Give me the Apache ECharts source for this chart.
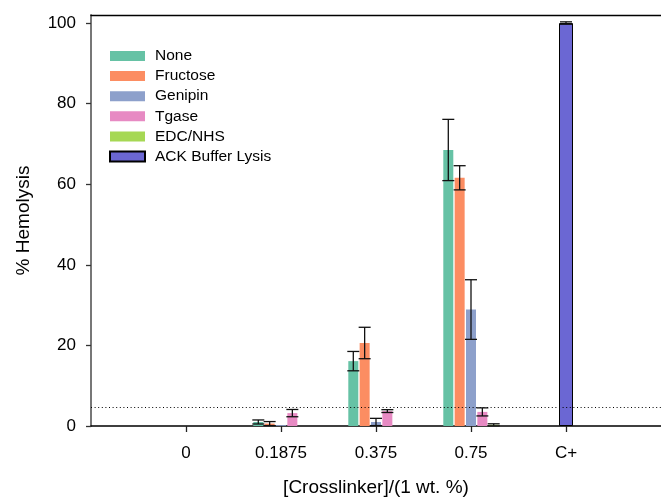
<!DOCTYPE html>
<html>
<head>
<meta charset="UTF-8">
<title>Hemolysis</title>
<script src="https://cdn.jsdelivr.net/npm/echarts@6/dist/echarts.min.js"></script>
<style>
  html, body { margin: 0; padding: 0; background: #fff; }
</style>
</head>
<body>
<div id="main" style="width: 661px;height:498px;"></div>
<script type="text/javascript">
// data
var categories = ['0', '0.1875', '0.375', '0.75', 'C+'];
var yTicks = [0, 20, 40, 60, 80, 100];
var threshold = 4.6;

var noneVals = [0, 1.0, 16.1, 68.5, null];
var noneErr = [0, 0.5, 2.4, 7.6, null];
var fructoseVals = [0, 0.6, 20.6, 61.6, null];
var fructoseErr = [0, 0.5, 3.9, 3.0, null];
var genipinVals = [0, 0.2, 1.0, 28.9, null];
var genipinErr = [0, 0, 0.9, 7.4, null];
var tgaseVals = [0, 3.2, 3.7, 3.5, null];
var tgaseErr = [0, 0.9, 0.35, 1.0, null];
var edcVals = [0, 0, 0, 0.3, null];
var edcErr = [0, 0, 0, 0.25, null];
var ackVals = [null, null, null, null, 100];
var ackErr = [null, null, null, null, 0.3];

var names = ['None', 'Fructose', 'Genipin', 'Tgase', 'EDC/NHS'];
var colors = ['#66c2a5', '#fc8d62', '#8da0cb', '#e78ac3', '#a6d854'];
var ackColor = '#6b67d3';

var barWidth = 10, barGap = 0.135, capWidth = 12;
var font = '"Liberation Sans", Arial, sans-serif';

// blank category at each end so the axis runs from -1 to 5
var axisCats = [''].concat(categories, ['']);
function pad(arr) { return [null].concat(arr, [null]); }

function errorSeries(vals, errs, offset, xIdx) {
  var data = [];
  vals.forEach(function (v, i) {
    if (v == null || !errs[i]) return;
    data.push([i + 1, v - errs[i], v + errs[i]]);
  });
  return {
    type: 'custom',
    xAxisIndex: xIdx,
    z: 5,
    silent: true,
    encode: { x: 0, y: [1, 2] },
    data: data,
    renderItem: function (params, api) {
      var x = api.coord([api.value(0), 0])[0] + offset;
      var lo = api.coord([api.value(0), api.value(1)])[1];
      var hi = api.coord([api.value(0), api.value(2)])[1];
      var st = { stroke: '#111', lineWidth: 1.3 };
      var h = capWidth / 2;
      return {
        type: 'group',
        children: [
          { type: 'line', shape: { x1: x, y1: lo, x2: x, y2: hi }, style: st },
          { type: 'line', shape: { x1: x - h, y1: hi, x2: x + h, y2: hi }, style: st },
          { type: 'line', shape: { x1: x - h, y1: lo, x2: x + h, y2: lo }, style: st }
        ]
      };
    }
  };
}

var groupVals = [noneVals, fructoseVals, genipinVals, tgaseVals, edcVals];
var groupErrs = [noneErr, fructoseErr, genipinErr, tgaseErr, edcErr];

var series = [];
names.forEach(function (n, i) {
  var s = {
    name: n,
    type: 'bar',
    xAxisIndex: 0,
    barWidth: barWidth,
    barGap: (barGap * 100) + '%',
    itemStyle: { color: colors[i] },
    data: pad(groupVals[i])
  };
  if (i === 0) {
    s.markLine = {
      silent: true,
      symbol: ['none', 'none'],
      label: { show: false },
      lineStyle: { color: '#000', width: 1, type: [1, 2.6] },
      data: [{ yAxis: threshold }]
    };
  }
  series.push(s);
});
series.push({
  name: 'ACK Buffer Lysis',
  type: 'bar',
  xAxisIndex: 1,
  barWidth: 14,
  itemStyle: { color: ackColor, borderColor: '#000', borderWidth: 1 },
  data: pad(ackVals)
});
names.forEach(function (n, i) {
  series.push(errorSeries(groupVals[i], groupErrs[i], (i - 2) * barWidth * (1 + barGap), 0));
});
series.push(errorSeries(ackVals, ackErr, 0, 1));

var myChart = echarts.init(document.getElementById('main'));
myChart.setOption({
  animation: false,
  textStyle: { fontFamily: font },
  grid: { left: 91, right: 0, top: 15, bottom: 72, outerBoundsMode: 'none', containLabel: false },
  legend: {
    data: names.concat(['ACK Buffer Lysis']),
    orient: 'vertical',
    left: 104,
    top: 43,
    icon: 'rect',
    itemWidth: 35,
    itemHeight: 10,
    itemGap: 4.1,
    textStyle: { fontSize: 15.5, lineHeight: 15.5, color: '#000', fontFamily: font, padding: [0, 0, 0, 5] }
  },
  xAxis: [
    {
      type: 'category',
      data: axisCats,
      boundaryGap: false,
      position: 'bottom',
      axisLine: { lineStyle: { color: '#000', width: 1.5 } },
      axisTick: {
        length: 6,
        interval: function (idx) { return idx > 0 && idx < axisCats.length - 1; },
        lineStyle: { color: '#222', width: 1.3 }
      },
      axisLabel: { fontSize: 17, color: '#000', margin: 19, interval: 0, fontFamily: font },
      name: '[Crosslinker]/(1 wt. %)',
      nameLocation: 'middle',
      nameGap: 52,
      nameTextStyle: { fontSize: 19, color: '#000', fontFamily: font }
    },
    {
      type: 'category',
      data: axisCats,
      boundaryGap: false,
      position: 'top',
      axisLine: { lineStyle: { color: '#000', width: 1.3 } },
      axisTick: { show: false },
      axisLabel: { show: false }
    }
  ],
  yAxis: {
    type: 'value',
    min: 0,
    max: 102,
    interval: 20,
    splitLine: { show: false },
    axisLine: { show: true, lineStyle: { color: '#777', width: 2 } },
    axisTick: { show: true, length: 5, customValues: yTicks, lineStyle: { color: '#333', width: 1.3 } },
    axisLabel: { fontSize: 17, color: '#000', margin: 15, customValues: yTicks, fontFamily: font },
    name: '% Hemolysis',
    nameLocation: 'middle',
    nameGap: 58,
    nameTextStyle: { fontSize: 19, color: '#000', fontFamily: font }
  },
  series: series
});
</script>
</body>
</html>
